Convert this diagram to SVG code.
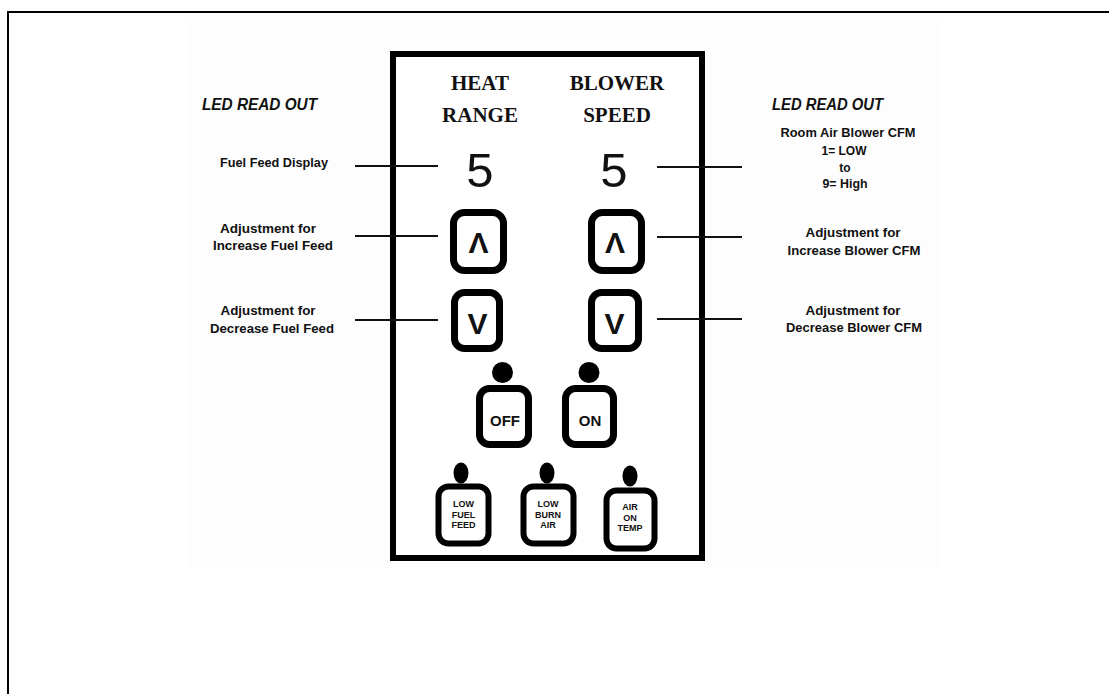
<svg xmlns="http://www.w3.org/2000/svg" width="1109" height="694" viewBox="0 0 1109 694">
<style>
.lbl{font-family:"Liberation Sans",Arial,sans-serif;font-weight:bold;font-size:12px;fill:#111;text-anchor:middle}
.led{font-family:"Liberation Sans",Arial,sans-serif;font-weight:bold;font-style:italic;font-size:16px;fill:#111}
.hdr{font-family:"Liberation Serif","Times New Roman",serif;font-weight:bold;font-size:21px;fill:#111;text-anchor:middle}
.dig{font-family:"Liberation Sans",Arial,sans-serif;font-size:49px;fill:#111;text-anchor:middle}
.btn{fill:#fff;stroke:#000;stroke-width:7}
.sbtn{fill:#fff;stroke:#000;stroke-width:6}
.arr{font-family:"Liberation Sans",Arial,sans-serif;font-weight:bold;font-size:30px;fill:#111;text-anchor:middle}
.bt{font-family:"Liberation Sans",Arial,sans-serif;font-weight:bold;font-size:15px;fill:#111;text-anchor:middle}
.st{font-family:"Liberation Sans",Arial,sans-serif;font-weight:bold;font-size:9px;fill:#111;text-anchor:middle}
.ln{stroke:#111;stroke-width:2;fill:none}
</style>
<rect width="1109" height="694" fill="#fff"/>
<path d="M8,694 V12 H1109" fill="none" stroke="#000" stroke-width="2"/>
<rect x="187" y="22" width="754" height="545" fill="#fdfdfd"/>

<g id="panel">
<rect x="393" y="54" width="309" height="504" fill="#fff" stroke="#000" stroke-width="6"/>
<text class="hdr" x="480" y="90">HEAT</text>
<text class="hdr" x="480" y="122">RANGE</text>
<text class="hdr" x="617" y="90">BLOWER</text>
<text class="hdr" x="617" y="122">SPEED</text>
</g>

<g id="connectors">
<line class="ln" x1="355" y1="166" x2="438" y2="166"/>
<line class="ln" x1="355" y1="236" x2="438" y2="236"/>
<line class="ln" x1="355" y1="320" x2="438" y2="320"/>
<line class="ln" x1="657" y1="167" x2="742" y2="167"/>
<line class="ln" x1="657" y1="237" x2="742" y2="237"/>
<line class="ln" x1="657" y1="319" x2="742" y2="319"/>
</g>

<g id="left-labels">
<text class="led" x="202" y="110" textLength="115" lengthAdjust="spacingAndGlyphs">LED READ OUT</text>
<text class="lbl" x="274" y="167" textLength="108" lengthAdjust="spacingAndGlyphs">Fuel Feed Display</text>
<text class="lbl" x="268" y="233" textLength="96" lengthAdjust="spacingAndGlyphs">Adjustment for</text>
<text class="lbl" x="273" y="250" textLength="120" lengthAdjust="spacingAndGlyphs">Increase Fuel Feed</text>
<text class="lbl" x="268" y="315" textLength="95" lengthAdjust="spacingAndGlyphs">Adjustment for</text>
<text class="lbl" x="272" y="333" textLength="124" lengthAdjust="spacingAndGlyphs">Decrease Fuel Feed</text>
</g>

<g id="right-labels">
<text class="led" x="772" y="110" textLength="111" lengthAdjust="spacingAndGlyphs">LED READ OUT</text>
<text class="lbl" x="848" y="137" textLength="135" lengthAdjust="spacingAndGlyphs">Room Air Blower CFM</text>
<text class="lbl" x="844" y="155" textLength="45" lengthAdjust="spacingAndGlyphs">1= LOW</text>
<text class="lbl" x="845" y="172">to</text>
<text class="lbl" x="845" y="188" textLength="45" lengthAdjust="spacingAndGlyphs">9= High</text>
<text class="lbl" x="853" y="237" textLength="95" lengthAdjust="spacingAndGlyphs">Adjustment for</text>
<text class="lbl" x="854" y="255" textLength="133" lengthAdjust="spacingAndGlyphs">Increase Blower CFM</text>
<text class="lbl" x="853" y="315" textLength="95" lengthAdjust="spacingAndGlyphs">Adjustment for</text>
<text class="lbl" x="854" y="332" textLength="136" lengthAdjust="spacingAndGlyphs">Decrease Blower CFM</text>
</g>

<g id="heat-display"><text class="dig" x="480" y="187">5</text></g>
<g id="blower-display"><text class="dig" x="614" y="187">5</text></g>

<g id="heat-up">
<rect class="btn" x="453.5" y="212.5" width="50" height="58" rx="11"/>
<text class="arr" x="478.5" y="253">Λ</text>
</g>
<g id="blower-up">
<rect class="btn" x="591.5" y="212.5" width="50" height="58" rx="11"/>
<text class="arr" x="615" y="253">Λ</text>
</g>
<g id="heat-down">
<rect class="btn" x="454.5" y="292.5" width="45" height="56" rx="10"/>
<text class="arr" x="477.5" y="334">V</text>
</g>
<g id="blower-down">
<rect class="btn" x="591.5" y="292.5" width="47" height="56" rx="10"/>
<text class="arr" x="614.5" y="334">V</text>
</g>

<g id="off-button">
<circle cx="502.5" cy="372.5" r="10.5" fill="#000"/>
<rect class="btn" x="479.5" y="388.5" width="49" height="56" rx="10"/>
<text class="bt" x="505" y="426">OFF</text>
</g>
<g id="on-button">
<circle cx="589" cy="372.5" r="10.5" fill="#000"/>
<rect class="btn" x="565.5" y="388.5" width="48" height="56" rx="10"/>
<text class="bt" x="590" y="426">ON</text>
</g>

<g id="low-fuel-feed">
<ellipse cx="461" cy="473" rx="7.5" ry="10.5" fill="#000"/>
<rect class="sbtn" x="438.5" y="486.5" width="50" height="57" rx="10"/>
<text class="st" x="463.5" y="507">LOW</text>
<text class="st" x="463.5" y="518">FUEL</text>
<text class="st" x="463.5" y="528">FEED</text>
</g>
<g id="low-burn-air">
<ellipse cx="547" cy="473" rx="7.5" ry="10.5" fill="#000"/>
<rect class="sbtn" x="523.5" y="486.5" width="50" height="57" rx="10"/>
<text class="st" x="548" y="507">LOW</text>
<text class="st" x="548" y="518">BURN</text>
<text class="st" x="548" y="528">AIR</text>
</g>
<g id="air-on-temp">
<ellipse cx="630" cy="476" rx="7.5" ry="10.5" fill="#000"/>
<rect class="sbtn" x="606.5" y="490.5" width="48" height="58" rx="10"/>
<text class="st" x="630" y="510">AIR</text>
<text class="st" x="630" y="521">ON</text>
<text class="st" x="630" y="531">TEMP</text>
</g>
</svg>
